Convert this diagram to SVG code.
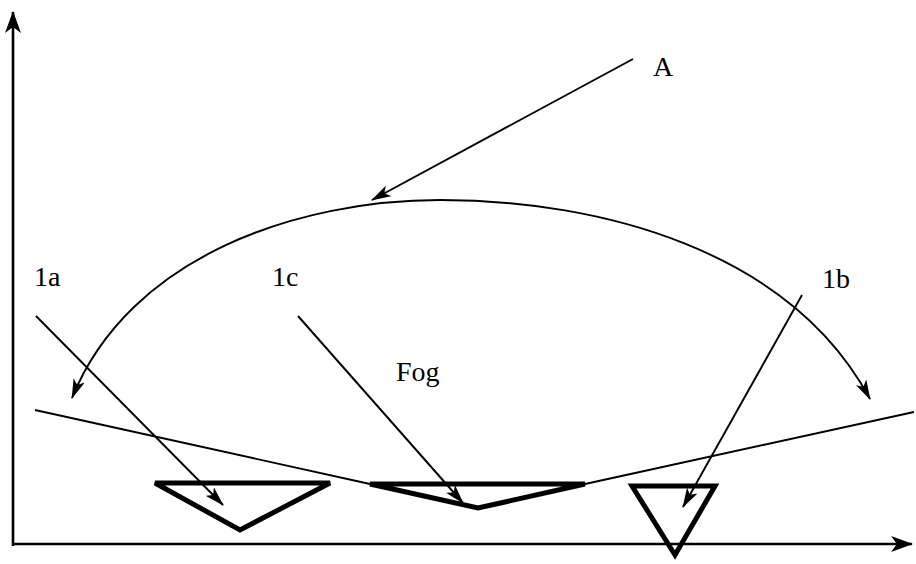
<svg xmlns="http://www.w3.org/2000/svg" width="916" height="564" viewBox="0 0 916 564">
<style>
.ln{fill:none;stroke:#000;stroke-width:1.9}
.ax{fill:none;stroke:#000;stroke-width:2.6}
.tri{fill:none;stroke:#000;stroke-width:5;stroke-linejoin:miter}
.lbl{font-family:"Liberation Serif","Times New Roman",serif;font-size:28px;fill:#000}
</style>
<defs>
<marker id="ah" viewBox="0 0 20 12" refX="19" refY="6" markerWidth="20" markerHeight="12" markerUnits="userSpaceOnUse" orient="auto">
<path d="M0,0 L20,6 L0,12 L5,6 Z" fill="#000"/>
</marker>
<marker id="axh" viewBox="0 0 22 16" refX="21" refY="8" markerWidth="22" markerHeight="16" markerUnits="userSpaceOnUse" orient="auto">
<path d="M0,0 L22,8 L0,16 L6,8 Z" fill="#000"/>
</marker>
</defs>
<g id="axes">
<line class="ax" x1="13" y1="546" x2="13" y2="12" marker-end="url(#axh)"/>
<line class="ax" x1="12" y1="544" x2="912" y2="544" marker-end="url(#axh)"/>
</g>
<g id="fog-line">
<path class="ln" d="M35,410 L370,484 M585,484 L914,412"/>
</g>
<g id="tri-left"><polygon class="tri" points="155,483 330,483 240,530"/></g>
<g id="tri-mid"><polygon class="tri" points="370,484 585,484 478,508"/></g>
<g id="tri-right"><polygon class="tri" points="632,486 715,486 675,555"/></g>
<g id="connectors">
<path class="ln" d="M440,200 C300,200 130,255 72,398" marker-end="url(#ah)"/>
<path class="ln" d="M440,200 C600,200 790,250 870,399" marker-end="url(#ah)"/>
<line class="ln" x1="633" y1="59" x2="372" y2="200" marker-end="url(#ah)"/>
<line class="ln" x1="36" y1="316" x2="223" y2="505" marker-end="url(#ah)"/>
<line class="ln" x1="298" y1="316" x2="463" y2="503" marker-end="url(#ah)"/>
<line class="ln" x1="802" y1="295" x2="683" y2="507" marker-end="url(#ah)"/>
</g>
<g id="labels">
<text class="lbl" x="653" y="76">A</text>
<text class="lbl" x="34" y="286">1a</text>
<text class="lbl" x="272" y="286">1c</text>
<text class="lbl" x="822" y="288">1b</text>
<text class="lbl" x="396" y="381">Fog</text>
</g>
</svg>
